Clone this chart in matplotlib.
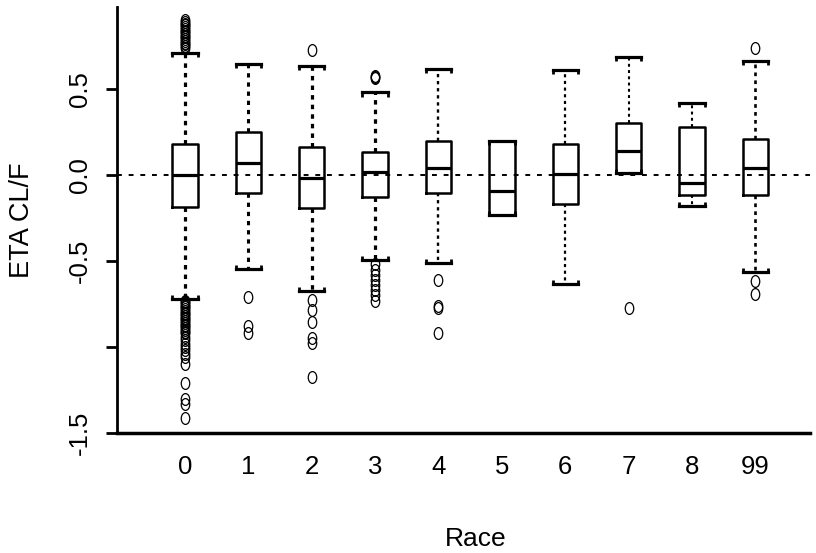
import numpy as np
import matplotlib
matplotlib.use("Agg")
import matplotlib.pyplot as plt
from matplotlib.path import Path

plt.rcParams['font.family'] = ['Liberation Sans', 'DejaVu Sans']

categories = ["0", "1", "2", "3", "4", "5", "6", "7", "8", "99"]
q1 = [-0.186, -0.105, -0.19, -0.128, -0.105, -0.233, -0.17, 0.01, -0.116, -0.116]
medians = [0.003, 0.07, -0.015, 0.017, 0.04, -0.09, 0.005, 0.14, -0.047, 0.04]
q3 = [0.18, 0.25, 0.163, 0.134, 0.20, 0.198, 0.18, 0.30, 0.28, 0.21]
whislo = [-0.72, -0.547, -0.674, -0.494, -0.512, -0.233, -0.634, 0.01, -0.18, -0.564]
whishi = [0.709, 0.645, 0.635, 0.48, 0.616, 0.198, 0.61, 0.687, 0.42, 0.663]
fliers = [
    [0.90, 0.89, 0.88, 0.87, 0.86, 0.85, 0.84, 0.83, 0.82, 0.81, 0.80, 0.79, 0.78, 0.77, 0.76, 0.75, 0.74,
     -0.73, -0.74, -0.75, -0.76, -0.77, -0.78, -0.79, -0.80, -0.81, -0.82, -0.83, -0.84, -0.85, -0.86,
     -0.87, -0.88, -0.89, -0.90, -0.91, -0.92, -0.94, -0.96, -0.98, -1.00, -1.02, -1.04, -1.06, -1.10,
     -1.21, -1.30, -1.33, -1.41],
    [-0.71, -0.88, -0.92],
    [0.727, -0.727, -0.785, -0.855, -0.948, -0.977, -1.174],
    [0.565, 0.57, 0.575, -0.52, -0.55, -0.58, -0.61, -0.64, -0.67, -0.70, -0.73],
    [-0.61, -0.76, -0.775, -0.92],
    [],
    [],
    [-0.773],
    [],
    [0.74, -0.616, -0.69],
]
whisker_lw = [2.3, 2.2, 2.3, 2.3, 1.7, 1.7, 1.6, 1.5, 1.5, 1.9]
y_ticks = [-1.5, -1.0, -0.5, 0.0, 0.5]
y_tick_labels = ["-1.5", "", "-0.5", "0.0", "0.5"]

fig = plt.figure(figsize=(8.16, 5.53), dpi=100)
ax = fig.add_axes([117/816, 1-433/553, (810-117)/816, (433-7)/553])

positions = np.arange(len(categories))
stats = []
for i, c in enumerate(categories):
    stats.append(dict(med=medians[i], q1=q1[i], q3=q3[i], whislo=whislo[i],
                      whishi=whishi[i], fliers=fliers[i], label=c))

# tall ellipse marker like R's "o"
circ = Path.unit_circle()
ell = Path(circ.vertices * np.array([0.72, 1.0]), circ.codes)

ax.axhline(0, color='black', lw=1.4, ls=(0, (2.5, 3.5)), zorder=1)

width = 0.4
for i in range(len(categories)):
    ax.bxp([stats[i]], positions=[positions[i]], widths=width, showfliers=True,
           boxprops=dict(color='black', lw=1.8),
           medianprops=dict(color='black', lw=2.3),
           whiskerprops=dict(color='black', lw=whisker_lw[i], ls=(0, (1.4, 1.6))),
           capprops=dict(color='black', lw=2.3),
           capwidths=width,
           flierprops=dict(marker=ell, markersize=8.5, markerfacecolor='none',
                           markeredgecolor='black', markeredgewidth=0.9, linestyle='none'))
    # bracket ends of caps
    for yv, sgn in ((whishi[i], -1), (whislo[i], 1)):
        for dx in (-width/2, width/2):
            ax.plot([positions[i]+dx, positions[i]+dx], [yv, yv+sgn*0.025],
                    color='black', lw=2.0, solid_capstyle='butt')

ax.set_xlim(-1.07, 9.86)
ax.set_ylim(-1.5, 0.977)
ax.set_xticks(positions)
ax.set_xticklabels(categories, fontsize=18.5)
ax.set_yticks(y_ticks)
ax.set_yticklabels(y_tick_labels, fontsize=18.5, rotation=90, va='center')
ax.tick_params(axis='x', length=0, pad=16)
ax.tick_params(axis='y', length=8, width=2, pad=10)
for s in ['top', 'right']:
    ax.spines[s].set_visible(False)
ax.spines['left'].set_linewidth(2)
ax.spines['bottom'].set_linewidth(2.5)

fig.text(476/816, 1-539/553, "Race", fontsize=19, ha='center', va='center')
fig.text(22/816, 1-220/553, "ETA CL/F", fontsize=19.5, ha='center', va='center', rotation=90)

fig.savefig("out.png", dpi=100)
